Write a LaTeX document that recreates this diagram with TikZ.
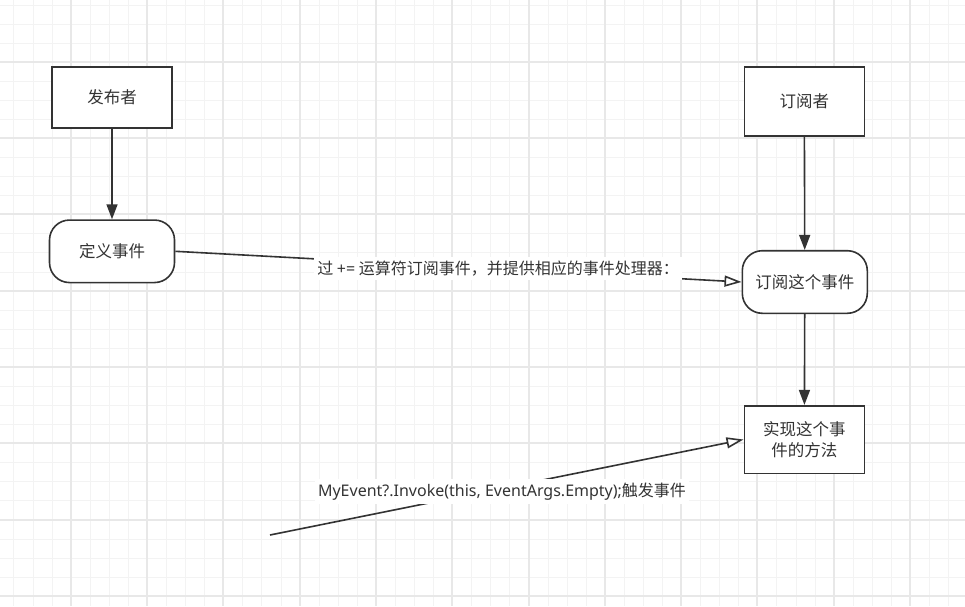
\documentclass[tikz,border=0pt]{standalone}
\usepackage{fontspec}
\setmainfont{Noto Sans CJK SC}
\newfontfamily\latin{Noto Sans}
\usetikzlibrary{arrows.meta}
\definecolor{ink}{HTML}{333333}
\definecolor{gridminor}{HTML}{F3F3F3}
\definecolor{gridmajor}{HTML}{E8E8E8}
\tikzset{
  box/.style={draw=ink, line width=1.6pt, fill=white, text=ink, font=\fontsize{16.5}{21}\selectfont, inner sep=2pt, align=center},
  rbox/.style={box, rounded corners=20pt},
  solidarrow/.style={draw=ink, line width=1.6pt, -{Triangle[length=15pt,width=11pt]}},
  openarrow/.style={draw=ink, line width=1.6pt, -{Triangle[open,length=17pt,width=11pt,fill=white]}},
  lbl/.style={fill=white, text=ink, font=\fontsize{16}{20}\selectfont, inner xsep=3pt, inner ysep=4pt}
}
\begin{document}
\begin{tikzpicture}[x=1pt,y=-1pt]
\useasboundingbox (0,0) rectangle (965,606);
\fill[white] (0,0) rectangle (965,606);
% minor grid
\foreach \i in {0,...,50} {
  \pgfmathsetmacro{\gx}{round(-5.6+19.075*\i)+0.5}
  \draw[gridminor, line width=1pt] (\gx,0) -- (\gx,606);
}
\foreach \i in {0,...,32} {
  \pgfmathsetmacro{\gy}{round(4.5+19.075*\i)+0.5}
  \draw[gridminor, line width=1pt] (0,\gy) -- (965,\gy);
}
% major grid
\foreach \i in {0,...,12} {
  \pgfmathsetmacro{\gx}{round(-5.6+76.3*\i)}
  \draw[gridmajor, line width=2pt] (\gx,0) -- (\gx,606);
}
\foreach \i in {0,...,8} {
  \pgfmathsetmacro{\gy}{round(-14.6+76.3*\i)}
  \draw[gridmajor, line width=2pt] (0,\gy) -- (965,\gy);
}
% nodes
\node[box, minimum width=120pt, minimum height=61.5pt] (pub) at (112,97.5) {发布者};
\node[rbox, minimum width=125pt, minimum height=62.5pt] (def) at (112,251.3) {定义事件};
\node[box, minimum width=120pt, minimum height=69pt] (sub) at (804.3,101.2) {订阅者};
\node[rbox, minimum width=125pt, minimum height=62.6pt] (subev) at (804.8,282) {订阅这个事件};
\node[box, minimum width=120pt, minimum height=67.6pt] (impl) at (804.3,439.5) {实现这个事\\件的方法};
\coordinate (trig) at (270,535);
% connectors
\draw[solidarrow] (pub) -- (def);
\draw[solidarrow] (sub) -- (subev);
\draw[solidarrow] (subev) -- (impl);
\draw[openarrow] (def.east) -- node[lbl, pos=0.57] (l1) {过 {\latin +=} 运算符订阅事件，并提供相应的事件处理器：} (subev.west);
\draw[openarrow] (trig) -- node[lbl, pos=0.49, yshift=-3pt] (l2) {{\latin MyEvent?.Invoke(this, EventArgs.Empty);}触发事件} (impl.west);
\end{tikzpicture}
\end{document}
